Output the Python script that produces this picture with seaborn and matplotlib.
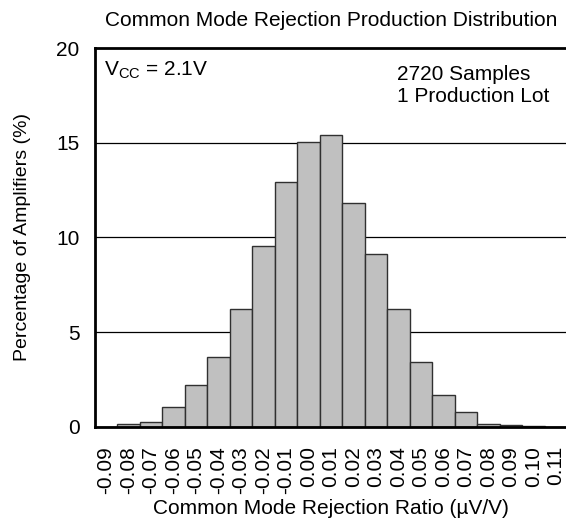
import matplotlib
matplotlib.use("Agg")
import matplotlib.pyplot as plt
import seaborn as sns
import pandas as pd

categories = ["-0.09", "-0.08", "-0.07", "-0.06", "-0.05", "-0.04", "-0.03", "-0.02", "-0.01", "0.00",
              "0.01", "0.02", "0.03", "0.04", "0.05", "0.06", "0.07", "0.08", "0.09", "0.10", "0.11"]
percent = [0.0, 0.14, 0.27, 1.06, 2.22, 3.69, 6.2, 9.53, 12.91, 15.04,
           15.41, 11.8, 9.13, 6.2, 3.41, 1.66, 0.79, 0.14, 0.07, 0.02, 0.0]
yticks = [0, 5, 10, 15, 20]

sns.set_style("white")
plt.rcParams['font.family'] = ['Liberation Sans', 'DejaVu Sans']
plt.rcParams['mathtext.fontset'] = 'custom'
plt.rcParams['mathtext.rm'] = 'Liberation Sans'
plt.rcParams['text.color'] = 'black'
plt.rcParams['axes.labelcolor'] = 'black'
plt.rcParams['xtick.color'] = 'black'
plt.rcParams['ytick.color'] = 'black'

df = pd.DataFrame({"ratio": categories, "pct": percent})

fig = plt.figure(figsize=(5.66, 5.22), dpi=100)
ax = fig.add_axes([94.8 / 566, 95.3 / 522, 472.2 / 566, 378.7 / 522])

for v in yticks[1:-1]:
    ax.axhline(v, color="black", lw=0.9, zorder=0)

sns.barplot(data=df, x="ratio", y="pct", order=categories, color="#c0c0c0",
            saturation=1, width=1.0, edgecolor="#303030", linewidth=1.0, ax=ax, zorder=2)

ax.set_xlim(-0.5, 20.5)
ax.set_ylim(0, 20)
ax.set_yticks(yticks)
ax.set_yticklabels([str(t) for t in yticks], fontsize=15)
ax.set_xticks(range(len(categories)))
ax.set_xticklabels(categories, rotation=90, fontsize=15)
ax.tick_params(axis="x", length=0, pad=14)
ax.tick_params(axis="y", length=0, pad=11)

for s in ["left", "bottom", "top"]:
    ax.spines[s].set_visible(True)
    ax.spines[s].set_linewidth(2)
    ax.spines[s].set_color("black")
ax.spines["right"].set_visible(False)

ax.set_xlabel("Common Mode Rejection Ratio (µV/V)", fontsize=15, labelpad=4)
ax.set_ylabel("Percentage of Amplifiers (%)", fontsize=14, labelpad=18)
ax.set_title("Common Mode Rejection Production Distribution", fontsize=15, pad=16)

ax.text(0.02, 0.97, r"$\mathregular{V_{CC}}$ = 2.1V", transform=ax.transAxes,
        fontsize=15, va="top", ha="left")
ax.text(0.64, 0.955, "2720 Samples\n1 Production Lot", transform=ax.transAxes,
        fontsize=15, va="top", ha="left", linespacing=1.2)

fig.savefig("out.png", dpi=100)
